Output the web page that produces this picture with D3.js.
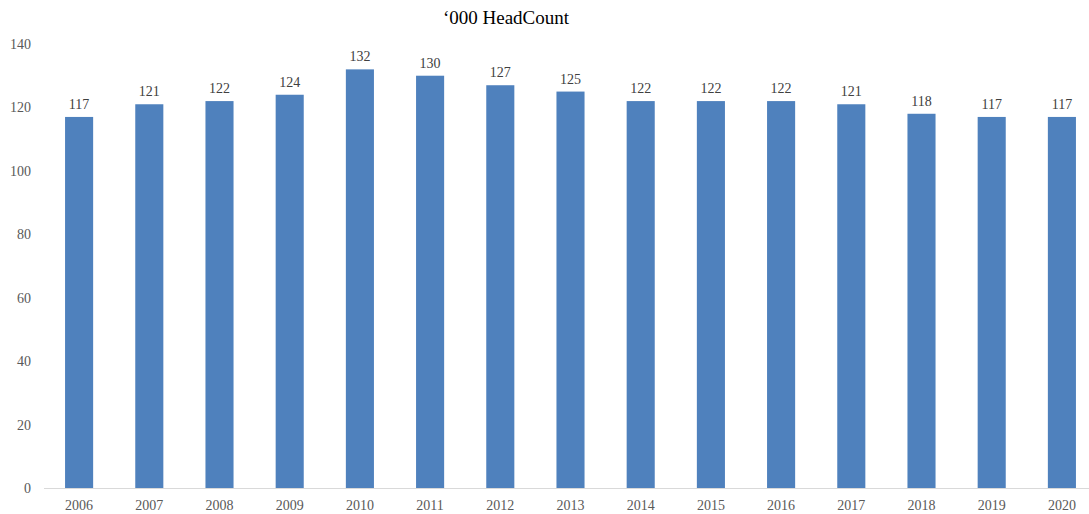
<!DOCTYPE html>
<html>
<head>
<meta charset="utf-8">
<script src="https://cdn.jsdelivr.net/npm/d3@7"></script>
<style>
  html, body { margin: 0; padding: 0; background: #fff; }
  svg { display: block; font-family: "Liberation Serif", "Times New Roman", serif; }
</style>
</head>
<body>
<svg id="chart" width="1089" height="514"></svg>
<script>
// Headcount by year, in thousands
const years = ["2006", "2007", "2008", "2009", "2010", "2011", "2012", "2013", "2014", "2015", "2016", "2017", "2018", "2019", "2020"];
const headcount = [117, 121, 122, 124, 132, 130, 127, 125, 122, 122, 122, 121, 118, 117, 117];
const yTicks = [0, 20, 40, 60, 80, 100, 120, 140];
const title = "\u2018000 HeadCount";

const svg = d3.select("#chart");
const margin = { left: 44, right: -8, top: 44, bottom: 26 };
const width = 1089, height = 514;

const x = d3.scaleBand()
  .domain(years)
  .range([margin.left, width - margin.right])
  .paddingInner(0.6)
  .paddingOuter(0.3);

const y = d3.scaleLinear()
  .domain([0, 140])
  .range([height - margin.bottom, margin.top]);

// Title
svg.append("text")
  .attr("x", 506)
  .attr("y", 24)
  .attr("text-anchor", "middle")
  .attr("font-size", 19)
  .attr("fill", "#000")
  .text(title);

// Y axis labels (no axis line)
const yAxis = d3.axisLeft(y).tickValues(yTicks).tickSize(0).tickPadding(0);
const yg = svg.append("g")
  .attr("transform", `translate(${31},0)`)
  .call(yAxis);
yg.select(".domain").remove();
yg.selectAll("text")
  .attr("font-family", "Liberation Serif, serif")
  .attr("font-size", 14)
  .attr("fill", "#595959");

// Bars
svg.append("g")
  .selectAll("rect")
  .data(years)
  .join("rect")
  .attr("x", d => x(d))
  .attr("width", x.bandwidth())
  .attr("y", (d, i) => y(headcount[i]))
  .attr("height", (d, i) => y(0) - y(headcount[i]))
  .attr("fill", "#4F81BD");

// Baseline
svg.append("line")
  .attr("x1", margin.left)
  .attr("x2", width)
  .attr("y1", y(0) + 0.5)
  .attr("y2", y(0) + 0.5)
  .attr("stroke", "#D9D9D9")
  .attr("stroke-width", 1);

// X axis labels
const xAxis = d3.axisBottom(x).tickSize(0).tickPadding(0);
const xg = svg.append("g")
  .attr("transform", `translate(0,${y(0) + 12})`)
  .call(xAxis);
xg.select(".domain").remove();
xg.selectAll("text")
  .attr("font-family", "Liberation Serif, serif")
  .attr("font-size", 14)
  .attr("fill", "#595959");

// Value labels
svg.append("g")
  .selectAll("text")
  .data(years)
  .join("text")
  .attr("x", d => x(d) + x.bandwidth() / 2)
  .attr("y", (d, i) => y(headcount[i]) - 8)
  .attr("text-anchor", "middle")
  .attr("font-size", 14)
  .attr("fill", "#404040")
  .text((d, i) => headcount[i]);
</script>
</body>
</html>
